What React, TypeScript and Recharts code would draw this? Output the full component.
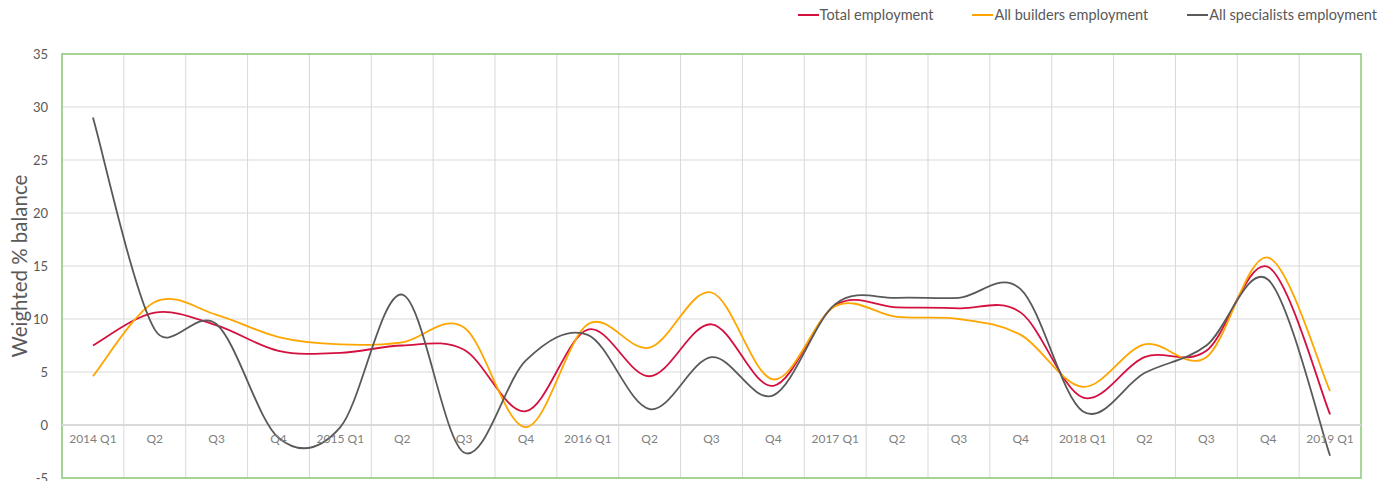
import React from "react";
import {
  CartesianGrid,
  Line,
  LineChart,
  ReferenceArea,
  ReferenceLine,
  XAxis,
  YAxis,
} from "recharts";

// quarterly survey balances, 2014 Q1 – 2019 Q1
const quarters = [
  "2014 Q1", "Q2", "Q3", "Q4",
  "2015 Q1", "Q2", "Q3", "Q4",
  "2016 Q1", "Q2", "Q3", "Q4",
  "2017 Q1", "Q2", "Q3", "Q4",
  "2018 Q1", "Q2", "Q3", "Q4",
  "2019 Q1",
];
const total = [7.5, 10.6, 9.4, 7.0, 6.8, 7.5, 7.1, 1.3, 9.0, 4.6, 9.5, 3.7, 11.3, 11.1, 11.0, 10.6, 2.6, 6.4, 7.0, 14.9, 1.0];
const builders = [4.6, 11.6, 10.4, 8.3, 7.6, 7.8, 9.2, -0.2, 9.5, 7.3, 12.5, 4.3, 11.2, 10.2, 10.0, 8.5, 3.6, 7.6, 6.4, 15.8, 3.2];
const specialists = [29.0, 9.0, 9.5, -1.2, -0.2, 12.3, -2.6, 6.1, 8.5, 1.5, 6.4, 2.8, 11.4, 12.0, 12.0, 12.8, 1.3, 4.9, 7.5, 13.7, -2.9];
const yTicks = [-5, 0, 5, 10, 15, 20, 25, 30, 35];

const series = [
  { key: "total", name: "Total employment", color: "#d4103f" },
  { key: "builders", name: "All builders employment", color: "#ffa500" },
  { key: "specialists", name: "All specialists employment", color: "#595959" },
];

const data = quarters.map((q, i) => ({
  id: `p${i}`,
  label: q,
  total: total[i],
  builders: builders[i],
  specialists: specialists[i],
}));

const FONT = "Lato, 'Open Sans', sans-serif";
const GRID = "#d9d9d9";

// Excel-style smoothed line: bezier through each point, handles at 1/6 of the
// neighbour chord but never longer than half of the segment itself
function smooth(context: any): any {
  let pts: [number, number][] = [];
  const dist = (a: [number, number], b: [number, number]) => Math.hypot(b[0] - a[0], b[1] - a[1]);
  return {
    areaStart() {},
    areaEnd() {},
    lineStart() {
      pts = [];
    },
    point(x: number, y: number) {
      pts.push([+x, +y]);
    },
    lineEnd() {
      if (!pts.length) return;
      context.moveTo(pts[0][0], pts[0][1]);
      for (let i = 0; i < pts.length - 1; i++) {
        const p1 = pts[i];
        const p2 = pts[i + 1];
        const p0 = pts[i - 1] || p1;
        const p3 = pts[i + 2] || p2;
        const d12 = dist(p1, p2);
        const d02 = dist(p0, p2);
        const d13 = dist(p1, p3);
        const f1 = d02 > 0 ? Math.min(1 / 6, d12 / 2 / d02) : 0;
        const f2 = d13 > 0 ? Math.min(1 / 6, d12 / 2 / d13) : 0;
        context.bezierCurveTo(
          p1[0] + f1 * (p2[0] - p0[0]),
          p1[1] + f1 * (p2[1] - p0[1]),
          p2[0] - f2 * (p3[0] - p1[0]),
          p2[1] - f2 * (p3[1] - p1[1]),
          p2[0],
          p2[1],
        );
      }
    },
  };
}

function QuarterTick(props: any) {
  const { x, y, index } = props;
  return (
    <text x={x} y={y - 52} dy="0.71em" textAnchor="middle" fontSize={12} fill="#7f7f7f" fontFamily={FONT}>
      {quarters[index]}
    </text>
  );
}

function AxisTitle(props: any) {
  const vb = props.viewBox || {};
  const cx = 19;
  const cy = vb.y + vb.height / 2;
  return (
    <text
      x={cx}
      y={cy}
      transform={`rotate(-90 ${cx} ${cy})`}
      textAnchor="middle"
      dominantBaseline="central"
      fontSize={20.5}
      fill="#595959"
      fontFamily={FONT}
    >
      Weighted % balance
    </text>
  );
}

function LegendRow() {
  return (
    <div
      style={{
        position: "absolute",
        top: 6,
        right: 9,
        display: "flex",
        gap: 39,
        fontFamily: FONT,
        fontSize: 14.5,
        color: "#595959",
        whiteSpace: "nowrap",
      }}
    >
      {series.map((s) => (
        <div key={s.key} style={{ display: "flex", alignItems: "center" }}>
          <span style={{ display: "inline-block", width: 21, height: 2, background: s.color, marginRight: 1 }} />
          <span>{s.name}</span>
        </div>
      ))}
    </div>
  );
}

export default function App() {
  return (
    <div style={{ position: "absolute", left: 0, top: 0, width: 1386, height: 481, background: "#fff" }}>
      <LineChart
        width={1386}
        height={481}
        data={data}
        margin={{ top: 54, right: 25, bottom: 0, left: 0 }}
      >
        <CartesianGrid
          stroke={GRID}
          verticalCoordinatesGenerator={({ offset }: any) =>
            quarters.map((_, i) => offset.left + (i * offset.width) / quarters.length)
          }
        />
        <XAxis
          dataKey="id"
          type="category"
          scale="band"
          height={3}
          axisLine={false}
          tickLine={false}
          interval={0}
          tick={<QuarterTick />}
        />
        <YAxis
          width={62}
          domain={[-5, 35]}
          ticks={yTicks}
          interval={0}
          allowDataOverflow
          axisLine={false}
          tickLine={false}
          tickMargin={8}
          tick={{ fontSize: 13, fill: "#595959", fontFamily: FONT }}
          label={{ content: <AxisTitle /> }}
        />
        <ReferenceLine y={0} stroke={GRID} strokeWidth={2} />
        <ReferenceArea y1={-5} y2={35} fill="none" stroke="#8ccb78" strokeWidth={1.5} />
        {series.map((s) => (
          <Line
            key={s.key}
            dataKey={s.key}
            name={s.name}
            type={smooth as any}
            stroke={s.color}
            strokeWidth={1.8}
            dot={false}
            activeDot={false}
            isAnimationActive={false}
          />
        ))}
      </LineChart>
      <LegendRow />
    </div>
  );
}
